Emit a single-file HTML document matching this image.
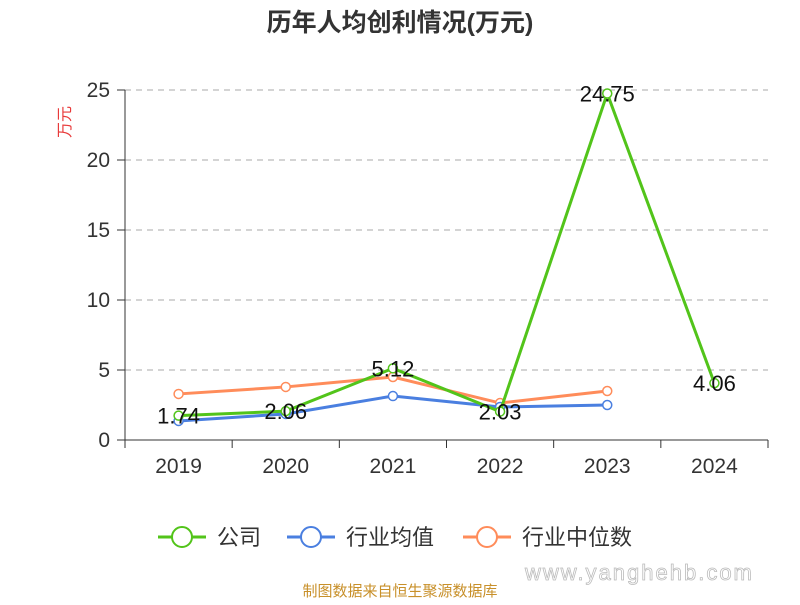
<!DOCTYPE html>
<html><head><meta charset="utf-8"><style>
body{margin:0;background:#fff;font-family:"Liberation Sans","Noto Sans CJK SC",sans-serif}
</style></head><body>
<svg width="800" height="600" xmlns="http://www.w3.org/2000/svg" id="chart" style="font-family:'Liberation Sans','Noto Sans CJK SC',sans-serif">
<text x="400" y="31" text-anchor="middle" font-size="25" font-weight="bold" fill="#333">历年人均创利情况(万元)</text>
<text transform="translate(70,122) rotate(-90)" text-anchor="middle" font-size="16" fill="#e83a3a">万元</text>
<g id="grid"></g><g id="axes"></g><g id="series"></g>
<g>
<g><line x1="158" y1="537" x2="206" y2="537" stroke="#52c41a" stroke-width="3"/><circle cx="182" cy="537" r="10" fill="#fff" stroke="#52c41a" stroke-width="2"/><text x="217" y="545" font-size="22" fill="#333">公司</text></g>
<g><line x1="287" y1="537" x2="335" y2="537" stroke="#4a7fe0" stroke-width="3"/><circle cx="311" cy="537" r="10" fill="#fff" stroke="#4a7fe0" stroke-width="2"/><text x="346" y="545" font-size="22" fill="#333">行业均值</text></g>
<g><line x1="463" y1="537" x2="511" y2="537" stroke="#ff8c5a" stroke-width="3"/><circle cx="487" cy="537" r="10" fill="#fff" stroke="#ff8c5a" stroke-width="2"/><text x="522" y="545" font-size="22" fill="#333">行业中位数</text></g>
</g>
<text x="525" y="580" font-size="22" fill="#fff" stroke="#bbb" stroke-width="0.8" letter-spacing="2">www.yanghehb.com</text>
<text x="400" y="596" text-anchor="middle" font-size="15" fill="#c8902a">制图数据来自恒生聚源数据库</text>
</svg>
<script>
const categories=["2019","2020","2021","2022","2023","2024"];
const company=[1.74,2.06,5.12,2.03,24.75,4.06];
const industryMean=[1.36,1.86,3.14,2.36,2.5,null];
const industryMedian=[3.29,3.79,4.5,2.64,3.5,null];
const yTicks=[0,5,10,15,20,25];
const NS="http://www.w3.org/2000/svg";
const x0=125,x1=768,yBase=440,yTop=90,yMax=25;
const band=(x1-x0)/categories.length;
const X=i=>x0+band*(i+0.5);
const Y=v=>yBase-(v/yMax)*(yBase-yTop);
function mk(tag,attrs,parent){const e=document.createElementNS(NS,tag);for(const k in attrs)e.setAttribute(k,attrs[k]);parent.appendChild(e);return e;}
const grid=document.getElementById('grid'),axes=document.getElementById('axes'),series=document.getElementById('series');
yTicks.forEach(t=>{
  if(t>0){const l=mk('line',{x1:x0,x2:x1,y1:Y(t),y2:Y(t),stroke:'#aaa','stroke-dasharray':'6,5'},grid);
  
  }
  const tk=mk('line',{x1:x0-8,x2:x0,y1:Y(t),y2:Y(t),stroke:'#333'},axes);
  
  
  const tx=mk('text',{x:x0-15,y:Y(t)+7,'text-anchor':'end','font-size':21,fill:'#333'},axes);tx.textContent=t;
  
  
});
const ya=mk('line',{x1:x0,x2:x0,y1:yTop,y2:yBase,stroke:'#333'},axes);


const xa=mk('line',{x1:x0,x2:x1,y1:yBase,y2:yBase,stroke:'#333'},axes);


for(let i=0;i<=categories.length;i++){const tk=mk('line',{x1:x0+band*i,x2:x0+band*i,y1:yBase,y2:yBase+8,stroke:'#333'},axes);
  
  }
categories.forEach((c,i)=>{const t=mk('text',{x:X(i),y:yBase+33,'text-anchor':'middle','font-size':21,fill:'#333'},axes);t.textContent=c;
  
  });
function draw(vals,color,name){
  const pts=vals.map((v,i)=>v==null?null:[X(i),Y(v)]).filter(p=>p);
  const pl=mk('polyline',{points:pts.map(p=>p.join(',')).join(' '),fill:'none',stroke:color,'stroke-width':3},series);
  
  
  vals.forEach((v,i)=>{if(v==null)return;
    const c=mk('circle',{cx:X(i),cy:Y(v),r:4.5,fill:'#fff',stroke:color,'stroke-width':1.5},series);
    
    });
}
draw(industryMedian,'#ff8c5a','industry-median');
draw(industryMean,'#4a7fe0','industry-mean');
draw(company,'#52c41a','company');
company.forEach((v,i)=>{const t=mk('text',{x:X(i),y:Y(v)+8,'text-anchor':'middle','font-size':22,fill:'#111'},series);t.textContent=v.toFixed(2);
  
  });
</script>
</body></html>
